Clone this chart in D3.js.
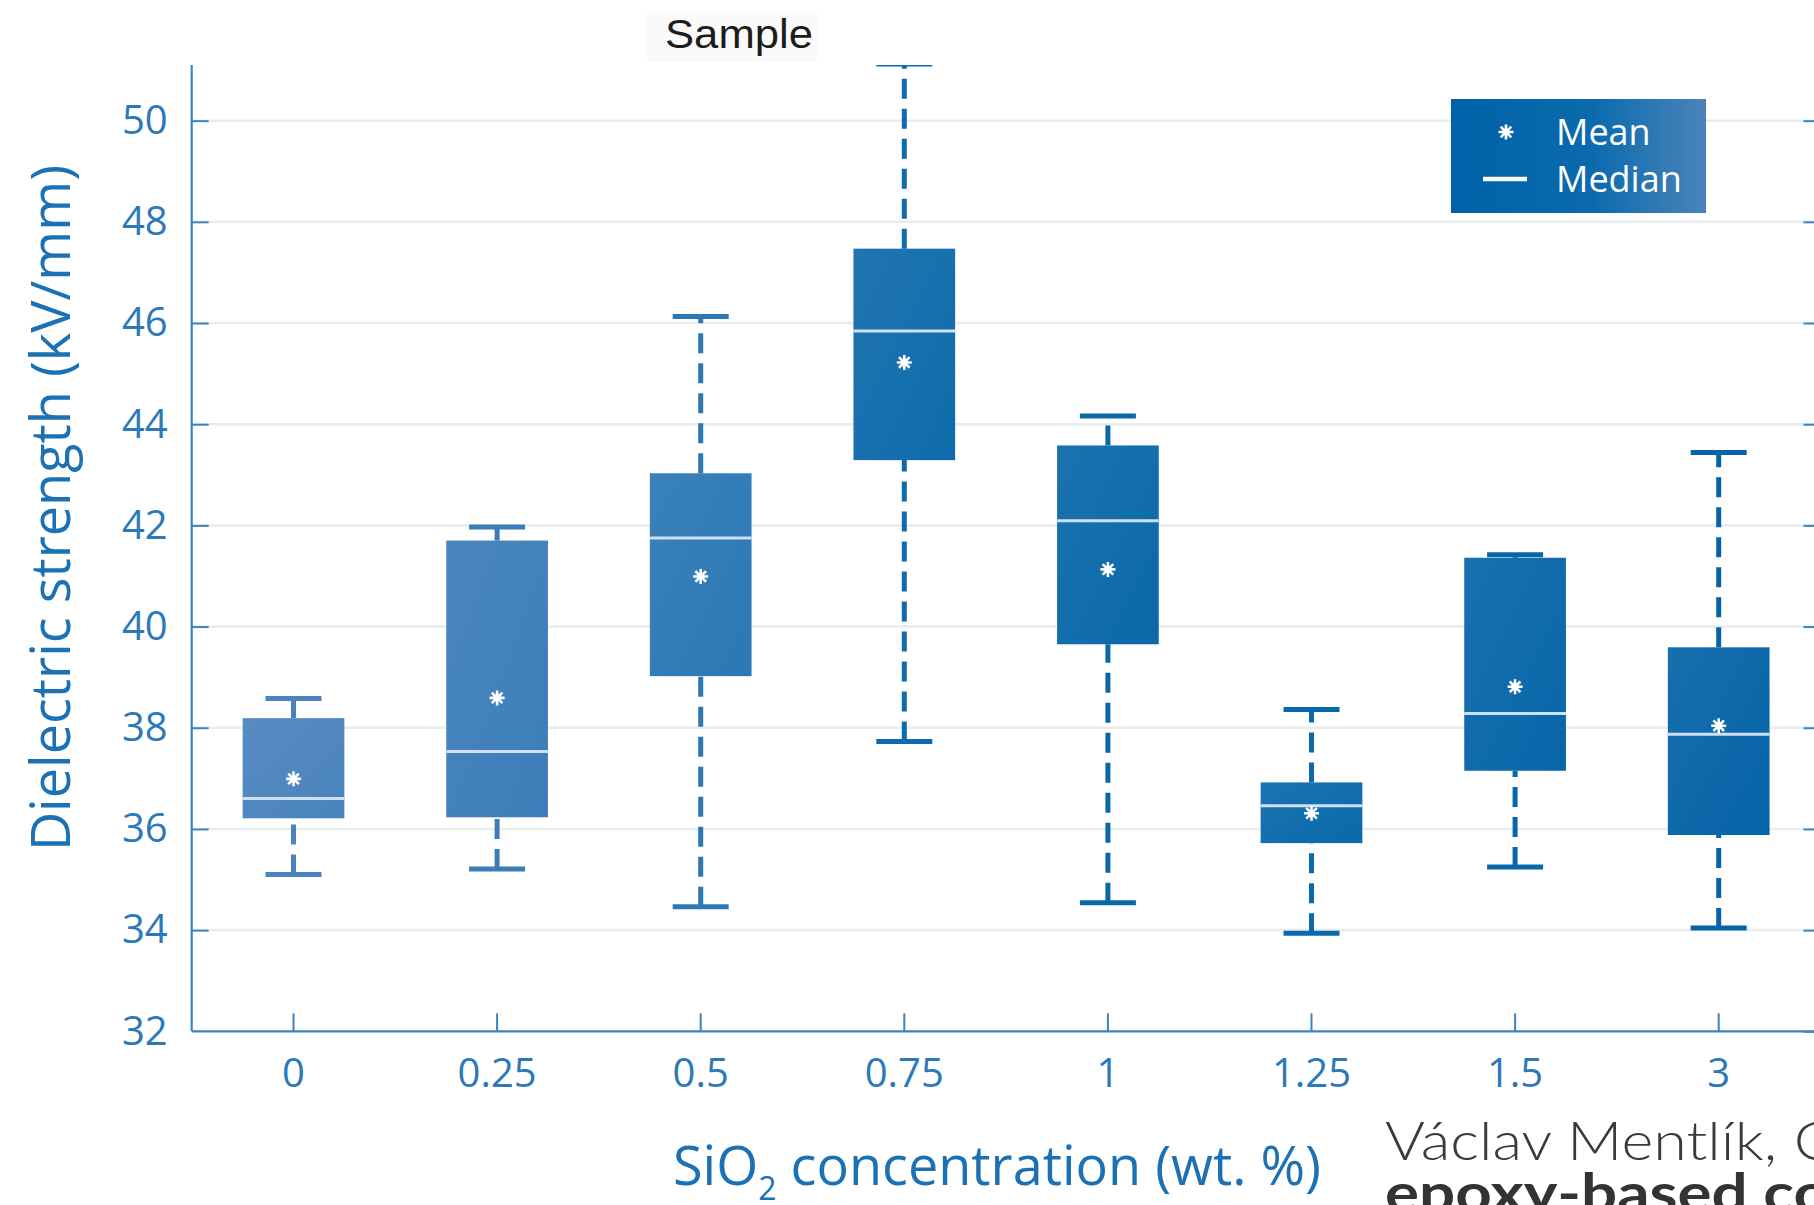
<!DOCTYPE html>
<html>
<head>
<meta charset="utf-8">
<script src="https://cdn.jsdelivr.net/npm/d3@7"></script>
<style>
  html, body { margin: 0; padding: 0; background: #ffffff; overflow: hidden; }
  svg { display: block; }
</style>
</head>
<body>
<svg id="chart" width="1814" height="1205"></svg>
<script>
// SiO2 loading levels (wt. %) and box-plot statistics of dielectric strength (kV/mm)
const categories  = ["0", "0.25", "0.5", "0.75", "1", "1.25", "1.5", "3"];
const whiskerLow  = [35.10, 35.21, 34.46, 37.73, 34.54, 33.94, 35.25, 34.04];
const quartile1   = [36.21, 36.23, 39.02, 43.29, 39.65, 35.72, 37.15, 35.88];
const medians     = [36.60, 37.53, 41.75, 45.84, 42.09, 36.46, 38.28, 37.87];
const quartile3   = [38.19, 41.70, 43.03, 47.47, 43.58, 36.92, 41.36, 39.59];
const whiskerHigh = [38.58, 41.97, 46.13, 51.12, 44.16, 38.36, 41.42, 43.44];
const means       = [36.99, 38.59, 40.99, 45.22, 41.13, 36.31, 38.81, 38.04];
const yTicks      = [32, 34, 36, 38, 40, 42, 44, 46, 48, 50];
const boxColors   = ["#4a83bd", "#3c7db9", "#2b78b5", "#0f6bab", "#0a68a9", "#0a69ab", "#0766a9", "#0563a7"];

const rows = categories.map((c, i) => ({
  cat: c, lo: whiskerLow[i], q1: quartile1[i], med: medians[i],
  q3: quartile3[i], hi: whiskerHigh[i], mean: means[i], color: boxColors[i]
}));

const svg = d3.select("#chart");
const plotLeft = 191.7, plotTop = 65, plotBottom = 1031.3;
const step = 203.6;
const plotRight = plotLeft + step * categories.length;

const x = d3.scaleBand().domain(categories).range([plotLeft, plotRight]).paddingInner(0).paddingOuter(0);
const y = d3.scaleLinear().domain([32, 51.1]).range([plotBottom, plotTop]);

const axisColor = "#3d83c1";
const labelColor = "#2c79b9";
const titleColor = "#1c71b4";
const font = "'Open Sans', 'Noto Sans', sans-serif";

const defs = svg.append("defs");
defs.append("clipPath").attr("id", "plotClip")
  .append("rect").attr("x", plotLeft).attr("y", plotTop)
  .attr("width", plotRight - plotLeft).attr("height", plotBottom - plotTop);

rows.forEach((d, i) => {
  const g = defs.append("linearGradient").attr("id", "boxGrad" + i)
    .attr("x1", "0").attr("y1", "0").attr("x2", "1").attr("y2", "1");
  g.append("stop").attr("offset", "0").attr("stop-color", d3.interpolateRgb(d.color, "#ffffff")(0.07));
  g.append("stop").attr("offset", "1").attr("stop-color", d.color);
});

const legGrad = defs.append("linearGradient").attr("id", "legendGrad")
  .attr("x1", "0").attr("y1", "0").attr("x2", "1").attr("y2", "0");
legGrad.append("stop").attr("offset", "0").attr("stop-color", "#0062a8");
legGrad.append("stop").attr("offset", "0.55").attr("stop-color", "#0a6aad");
legGrad.append("stop").attr("offset", "1").attr("stop-color", "#4b83ba");

// horizontal grid
svg.append("g").selectAll("line").data(yTicks.filter(t => t > 32)).join("line")
  .attr("x1", plotLeft).attr("x2", plotRight)
  .attr("y1", d => y(d)).attr("y2", d => y(d))
  .attr("stroke", "#e9ecef").attr("stroke-width", 2.5);

// "Sample" heading with its faint backdrop
svg.append("rect").attr("x", 647).attr("y", 12).attr("width", 170).attr("height", 50).attr("fill", "#fafafa");
svg.append("text").attr("x", 665).attr("y", 48)
  .attr("font-family", "'Liberation Sans', Arial, sans-serif").attr("font-size", 40)
  .attr("textLength", 148).attr("lengthAdjust", "spacingAndGlyphs")
  .attr("fill", "#1c1c1c").text("Sample");

// axes: left + bottom with inward ticks, right axis ticks only
const yAxisL = d3.axisLeft(y).tickValues(yTicks).tickSize(-17).tickPadding(24).tickFormat(d3.format("d"));
const gL = svg.append("g").attr("transform", `translate(${plotLeft},0)`).call(yAxisL);
const yAxisR = d3.axisRight(y).tickValues(yTicks).tickSize(-17).tickFormat("");
const gR = svg.append("g").attr("transform", `translate(${plotRight},0)`).call(yAxisR);
gR.select(".domain").remove();
const xAxis = d3.axisBottom(x).tickSize(-18).tickPadding(27);
const gB = svg.append("g").attr("transform", `translate(0,${plotBottom})`).call(xAxis);

[gL, gR, gB].forEach(g => {
  g.select(".domain").attr("stroke", axisColor).attr("stroke-width", 2.2);
  g.selectAll(".tick line").attr("stroke", axisColor).attr("stroke-width", 2);
  g.selectAll(".tick text").attr("fill", labelColor).attr("font-family", font).attr("font-size", 40);
});
gL.select(".domain").attr("d", `M0,${plotTop}V${plotBottom}`);
gB.select(".domain").attr("d", `M${plotLeft},0H${plotRight}`);
gL.selectAll(".tick").filter(d => d === 32).select("line").remove();

// boxes
const plot = svg.append("g").attr("clip-path", "url(#plotClip)");
const boxW = 101.7, capW = 56;

const box = plot.selectAll("g.box").data(rows).join("g").attr("class", "box")
  .attr("transform", d => `translate(${x(d.cat) + x.bandwidth() / 2},0)`);

// lower whisker, dashed from the cap toward the box
box.append("line").attr("x1", 0).attr("x2", 0)
  .attr("y1", d => y(d.lo)).attr("y2", d => y(d.q1))
  .attr("stroke", d => d.color).attr("stroke-width", 5).attr("stroke-dasharray", "20,10");
// upper whisker, dashed from the box toward the cap
box.append("line").attr("x1", 0).attr("x2", 0)
  .attr("y1", d => y(d.q3)).attr("y2", d => y(d.hi))
  .attr("stroke", d => d.color).attr("stroke-width", 5).attr("stroke-dasharray", "20,10");
// caps
box.selectAll("line.cap").data(d => [{ v: d.lo, c: d.color }, { v: d.hi, c: d.color }]).join("line")
  .attr("class", "cap")
  .attr("x1", -capW / 2).attr("x2", capW / 2)
  .attr("y1", d => y(d.v)).attr("y2", d => y(d.v))
  .attr("stroke", d => d.c).attr("stroke-width", 5);
// interquartile box
box.append("rect")
  .attr("x", -boxW / 2).attr("width", boxW)
  .attr("y", d => y(d.q3)).attr("height", d => y(d.q1) - y(d.q3))
  .attr("fill", (d, i) => `url(#boxGrad${i})`);
// median
box.append("line").attr("x1", -boxW / 2).attr("x2", boxW / 2)
  .attr("y1", d => y(d.med)).attr("y2", d => y(d.med))
  .attr("stroke", "#cfe1f1").attr("stroke-width", 3);
// mean marker (asterisk)
const starPath = r => {
  const p = d3.path();
  for (let k = 0; k < 4; k++) {
    const a = k * Math.PI / 4;
    p.moveTo(-r * Math.cos(a), -r * Math.sin(a));
    p.lineTo(r * Math.cos(a), r * Math.sin(a));
  }
  return p.toString();
};
box.append("path")
  .attr("transform", d => `translate(0,${y(d.mean)})`)
  .attr("d", starPath(7.5))
  .attr("stroke", "#ffffff").attr("stroke-width", 2.6).attr("fill", "none");

// legend
const leg = svg.append("g");
leg.append("rect").attr("x", 1451).attr("y", 99).attr("width", 255).attr("height", 114).attr("fill", "url(#legendGrad)");
leg.append("path").attr("transform", "translate(1506,132)").attr("d", starPath(7.5))
  .attr("stroke", "#ffffff").attr("stroke-width", 2.6).attr("fill", "none");
leg.append("line").attr("x1", 1483).attr("x2", 1527).attr("y1", 179).attr("y2", 179)
  .attr("stroke", "#ffffff").attr("stroke-width", 4.5);
leg.selectAll("text").data(["Mean", "Median"]).join("text")
  .attr("x", 1556).attr("y", (d, i) => 145 + i * 47)
  .attr("font-family", font).attr("font-size", 36).attr("fill", "#ffffff").text(d => d);

// axis titles
svg.append("text")
  .attr("transform", "translate(70,508) rotate(-90)")
  .attr("text-anchor", "middle")
  .attr("font-family", font).attr("font-size", 54).attr("fill", titleColor)
  .text("Dielectric strength (kV/mm)");

const xt = svg.append("text").attr("x", 997).attr("y", 1185).attr("text-anchor", "middle")
  .attr("font-family", font).attr("font-size", 54).attr("fill", titleColor);
xt.append("tspan").text("SiO");
xt.append("tspan").attr("font-size", 32).attr("dy", 15).text("2");
xt.append("tspan").attr("dy", -15).text(" concentration (wt. %)");

// source caption, running off the right edge
svg.append("text").attr("x", 1385).attr("y", 1160)
  .attr("font-family", "Lato, 'Open Sans', sans-serif").attr("font-weight", 300)
  .attr("font-size", 53).attr("fill", "#3a3a3a")
  .attr("textLength", 450).attr("lengthAdjust", "spacingAndGlyphs")
  .text("Václav Mentlík, C");
svg.append("text").attr("x", 1385).attr("y", 1212)
  .attr("font-family", "Lato, 'Open Sans', sans-serif").attr("font-weight", 700)
  .attr("font-size", 53).attr("fill", "#333333")
  .attr("textLength", 445).attr("lengthAdjust", "spacingAndGlyphs")
  .text("epoxy-based co");
</script>
</body>
</html>
